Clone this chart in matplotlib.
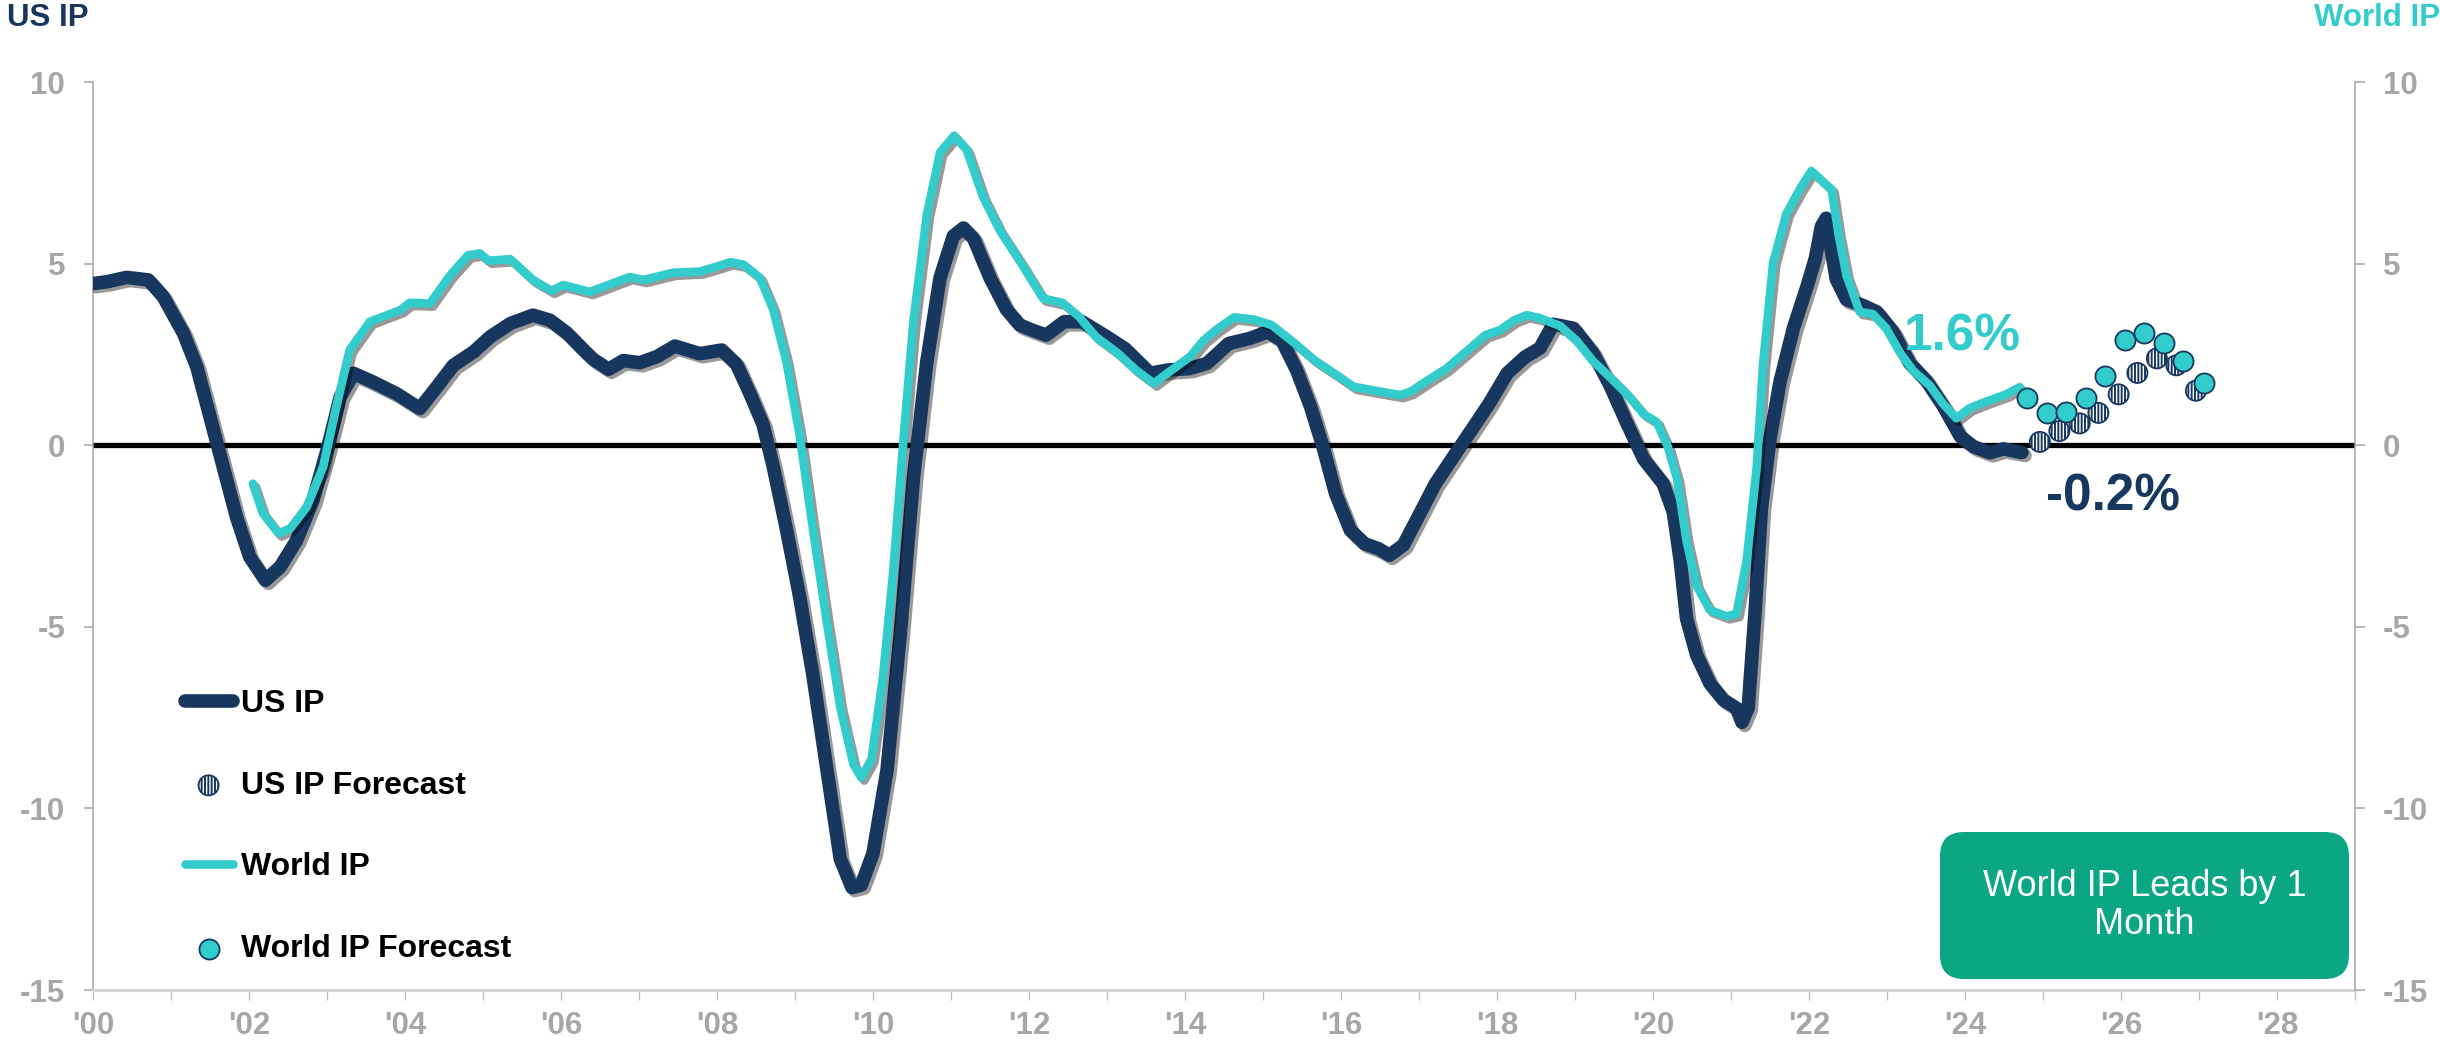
import matplotlib
matplotlib.use("Agg")
import matplotlib.pyplot as plt
import matplotlib.patheffects as pe
from matplotlib.lines import Line2D
from matplotlib.patches import FancyBboxPatch

# Colours
NAVY = "#17375E"
TEAL = "#33CCCC"
GRAY = "#A6A6A6"
LIGHT_GRAY = "#D4D4D4"
BOX_GREEN = "#0BA784"

# US industrial production, y/y % (decimal year, value)
us_t = [2000.00, 2000.18, 2000.43, 2000.71, 2000.90, 2001.16, 2001.33, 2001.50, 2001.67, 2001.84,
        2002.01, 2002.21, 2002.40, 2002.61, 2002.82, 2003.00, 2003.17, 2003.34, 2003.59, 2003.89,
        2004.19, 2004.41, 2004.62, 2004.88, 2005.09, 2005.35, 2005.64, 2005.86, 2006.07, 2006.29,
        2006.41, 2006.61, 2006.80, 2007.01, 2007.23, 2007.46, 2007.78, 2008.06, 2008.25, 2008.42,
        2008.59, 2008.72, 2008.89, 2009.06, 2009.23, 2009.41, 2009.58, 2009.73, 2009.85, 2010.00,
        2010.18, 2010.35, 2010.52, 2010.69, 2010.86, 2011.03, 2011.16, 2011.29, 2011.50, 2011.71,
        2011.88, 2012.04, 2012.22, 2012.45, 2012.68, 2013.00, 2013.23, 2013.55, 2013.78, 2014.06,
        2014.28, 2014.56, 2014.83, 2015.06, 2015.24, 2015.43, 2015.61, 2015.77, 2015.93, 2016.12,
        2016.30, 2016.48, 2016.62, 2016.80, 2016.99, 2017.21, 2017.44, 2017.67, 2017.90, 2018.13,
        2018.36, 2018.55, 2018.72, 2018.98, 2019.23, 2019.45, 2019.66, 2019.88, 2020.13, 2020.26,
        2020.35, 2020.43, 2020.56, 2020.73, 2020.90, 2021.07, 2021.14, 2021.22, 2021.31, 2021.39,
        2021.50, 2021.63, 2021.80, 2021.97, 2022.08, 2022.16, 2022.22, 2022.27, 2022.35, 2022.48,
        2022.70, 2022.87, 2023.08, 2023.29, 2023.51, 2023.72, 2023.94, 2024.11, 2024.32, 2024.49,
        2024.73]
us_v = [4.45, 4.50, 4.62, 4.55, 4.09, 3.08, 2.16, 0.78, -0.60, -1.98,
        -3.08, -3.72, -3.35, -2.62, -1.52, -0.14, 1.33, 1.98, 1.74, 1.42,
        1.01, 1.61, 2.20, 2.57, 2.98, 3.35, 3.58, 3.44, 3.10, 2.62,
        2.37, 2.09, 2.33, 2.27, 2.44, 2.73, 2.52, 2.62, 2.23, 1.43,
        0.57, -0.58, -2.31, -4.18, -6.34, -8.94, -11.39, -12.18, -12.11, -11.24,
        -8.94, -5.19, -0.87, 2.30, 4.61, 5.76, 5.98, 5.69, 4.61, 3.74,
        3.31, 3.17, 3.03, 3.40, 3.40, 2.98, 2.66, 1.98, 2.07, 2.11,
        2.25, 2.80, 2.94, 3.12, 2.89, 2.07, 1.06, -0.05, -1.33, -2.34,
        -2.71, -2.85, -3.03, -2.75, -1.97, -1.06, -0.32, 0.41, 1.15, 1.98,
        2.43, 2.67, 3.33, 3.22, 2.54, 1.64, 0.63, -0.38, -1.06, -1.84,
        -3.19, -4.77, -5.78, -6.56, -7.01, -7.24, -7.63, -7.24, -4.54, -1.73,
        0.18, 1.76, 3.22, 4.34, 5.13, 6.03, 6.25, 5.58, 4.57, 4.01,
        3.84, 3.67, 3.11, 2.26, 1.76, 1.08, 0.24, -0.04, -0.21, -0.10,
        -0.20]

# World industrial production, y/y % (decimal year, value)
world_t = [2002.05, 2002.18, 2002.38, 2002.53, 2002.74, 2002.95, 2003.12, 2003.29, 2003.55, 2003.94,
           2004.06, 2004.32, 2004.58, 2004.81, 2004.96, 2005.07, 2005.35, 2005.64, 2005.88, 2006.03,
           2006.37, 2006.63, 2006.88, 2007.06, 2007.44, 2007.78, 2008.00, 2008.17, 2008.34, 2008.55,
           2008.72, 2008.89, 2009.06, 2009.23, 2009.41, 2009.58, 2009.75, 2009.85, 2009.98, 2010.13,
           2010.26, 2010.39, 2010.52, 2010.69, 2010.86, 2011.04, 2011.20, 2011.41, 2011.63, 2011.90,
           2012.18, 2012.43, 2012.64, 2012.86, 2013.14, 2013.37, 2013.60, 2013.83, 2014.06, 2014.24,
           2014.42, 2014.63, 2014.88, 2015.11, 2015.38, 2015.66, 2015.98, 2016.16, 2016.44, 2016.76,
           2016.89, 2017.08, 2017.35, 2017.58, 2017.85, 2018.04, 2018.22, 2018.38, 2018.55, 2018.81,
           2019.02, 2019.23, 2019.45, 2019.66, 2019.88, 2020.05, 2020.19, 2020.31, 2020.43, 2020.56,
           2020.73, 2020.94, 2021.07, 2021.20, 2021.33, 2021.41, 2021.54, 2021.71, 2021.88, 2022.03,
           2022.16, 2022.29, 2022.38, 2022.48, 2022.65, 2022.82, 2022.99, 2023.17, 2023.34, 2023.55,
           2023.72, 2023.89, 2024.06, 2024.27, 2024.53, 2024.70]
world_v = [-1.06, -1.88, -2.43, -2.29, -1.70, -0.60, 1.06, 2.62, 3.40, 3.72,
           3.92, 3.90, 4.68, 5.23, 5.28, 5.08, 5.12, 4.55, 4.25, 4.41,
           4.22, 4.43, 4.63, 4.55, 4.75, 4.78, 4.92, 5.04, 4.97, 4.61,
           3.74, 2.30, 0.28, -2.31, -4.90, -7.21, -8.79, -9.15, -8.65, -6.34,
           -3.46, 0.14, 3.45, 6.34, 8.06, 8.52, 8.14, 6.84, 5.90, 5.01,
           4.04, 3.92, 3.54, 2.98, 2.53, 2.07, 1.70, 2.07, 2.43, 2.89,
           3.21, 3.52, 3.46, 3.31, 2.85, 2.34, 1.88, 1.61, 1.50, 1.38,
           1.47, 1.74, 2.11, 2.53, 3.03, 3.17, 3.44, 3.58, 3.50, 3.28,
           2.88, 2.32, 1.87, 1.42, 0.86, 0.63, -0.04, -0.94, -2.63, -3.87,
           -4.54, -4.71, -4.65, -3.19, -0.60, 2.21, 5.02, 6.37, 7.04, 7.55,
           7.29, 7.04, 5.80, 4.68, 3.67, 3.61, 3.22, 2.54, 2.04, 1.64,
           1.14, 0.74, 1.02, 1.20, 1.40, 1.60]

# Quarterly forecasts
us_fc_t = [2024.96, 2025.21, 2025.47, 2025.71, 2025.97, 2026.21, 2026.46, 2026.71, 2026.96]
us_fc_v = [0.09, 0.39, 0.60, 0.89, 1.40, 1.99, 2.39, 2.20, 1.50]
world_fc_t = [2024.80, 2025.05, 2025.29, 2025.55, 2025.80, 2026.05, 2026.30, 2026.55, 2026.80, 2027.06]
world_fc_v = [1.29, 0.89, 0.91, 1.31, 1.90, 2.91, 3.09, 2.82, 2.31, 1.70]

# Axis ticks
x_ticks = list(range(2000, 2030))
x_tick_labels = [f"'{y % 100:02d}" if y % 2 == 0 else "" for y in x_ticks]
y_ticks = [-15, -10, -5, 0, 5, 10]

plt.rcParams['font.family'] = ['Liberation Sans', 'DejaVu Sans']
plt.rcParams['font.weight'] = 'bold'
plt.rcParams['axes.unicode_minus'] = False
plt.rcParams['hatch.linewidth'] = 1.4
plt.rcParams['hatch.color'] = NAVY

W, H = 2440, 1046
fig = plt.figure(figsize=(W / 100, H / 100), dpi=100)
ax = fig.add_axes([93 / W, 1 - 990 / H, 2262 / W, 908 / H])

shadow = [pe.SimpleLineShadow(offset=(2.2, -2.2), shadow_color='black', alpha=0.4),
          pe.Normal()]

US_LW = 9.8
WORLD_LW = 6.2

ax.axhline(0, color='black', lw=3.8, zorder=2)
ax.plot(us_t, us_v, color=NAVY, lw=US_LW, solid_capstyle='round',
        solid_joinstyle='round', path_effects=shadow, zorder=3)
ax.plot(world_t, world_v, color=TEAL, lw=WORLD_LW, solid_capstyle='round',
        solid_joinstyle='round', path_effects=shadow, zorder=4)

us_sc = ax.scatter(us_fc_t, us_fc_v, s=210, facecolor='white', edgecolor=NAVY,
                   linewidths=1.3, hatch='|||||', zorder=5)
world_sc = ax.scatter(world_fc_t, world_fc_v, s=210, facecolor=TEAL,
                      edgecolor=NAVY, linewidths=1.3, zorder=6)

# Value call-outs
ax.text(2023.96, 2.97, "1.6%", color=TEAL, fontsize=37, fontweight='bold',
        ha='center', va='center', zorder=7)
ax.text(2025.9, -1.43, "-0.2%", color=NAVY, fontsize=37, fontweight='bold',
        ha='center', va='center', zorder=7)

ax.set_xlim(2000, 2029)
ax.set_ylim(-15, 10)
ax.set_xticks(x_ticks)
ax.set_xticklabels(x_tick_labels)
ax.set_yticks(y_ticks)
ax.tick_params(axis='x', direction='out', length=7.2, width=1.0, color='#BFBFBF',
               labelsize=22.5, labelcolor=GRAY, pad=8)
ax.tick_params(axis='y', direction='out', length=6.5, width=1.1, color=GRAY,
               labelsize=22.5, labelcolor=GRAY, pad=13.5)

for side in ('top', 'right'):
    ax.spines[side].set_visible(False)
ax.spines['left'].set_color(GRAY)
ax.spines['left'].set_linewidth(1.1)
ax.spines['bottom'].set_color(LIGHT_GRAY)
ax.spines['bottom'].set_linewidth(2.2)

ax2 = ax.twinx()
ax2.set_ylim(-15, 10)
ax2.set_yticks(y_ticks)
ax2.tick_params(axis='y', direction='out', length=7.2, width=1.1, color=GRAY,
                labelsize=22.5, labelcolor=GRAY, pad=13)
for side in ('top', 'left', 'bottom'):
    ax2.spines[side].set_visible(False)
ax2.spines['right'].set_color(GRAY)
ax2.spines['right'].set_linewidth(1.1)

# Legend
handles = [Line2D([], [], color=NAVY, lw=US_LW, solid_capstyle='round'),
           us_sc,
           Line2D([], [], color=TEAL, lw=WORLD_LW, solid_capstyle='round'),
           world_sc]
labels = ['US IP', 'US IP Forecast', 'World IP', 'World IP Forecast']
ax.legend(handles, labels, loc='upper left', bbox_to_anchor=(0.0405, 0.3315),
          frameon=False, prop={'size': 23, 'weight': 'bold'},
          handlelength=1.5, handletextpad=0.26, labelspacing=1.62,
          borderpad=0, borderaxespad=0, scatterpoints=1)

# Axis titles
fig.text(7 / W, 1 - 18 / H, "US IP", color=NAVY, fontsize=22.5,
         fontweight='bold', ha='left', va='center')
fig.text(1.0, 1 - 18 / H, "World IP", color=TEAL, fontsize=22.5,
         fontweight='bold', ha='right', va='center')

# Note box
box = FancyBboxPatch((19.40, 0.67), 4.09, 1.47,
                     boxstyle='round,pad=0,rounding_size=0.24',
                     transform=fig.dpi_scale_trans, fc=BOX_GREEN, ec='none',
                     zorder=5)
fig.add_artist(box)
fig.text(21.445, 1.405, "World IP Leads by 1\nMonth", transform=fig.dpi_scale_trans,
         ha='center', va='center', color='white', fontsize=26,
         fontweight='normal', linespacing=1.1, zorder=6)

fig.savefig("out.png", dpi=100)
